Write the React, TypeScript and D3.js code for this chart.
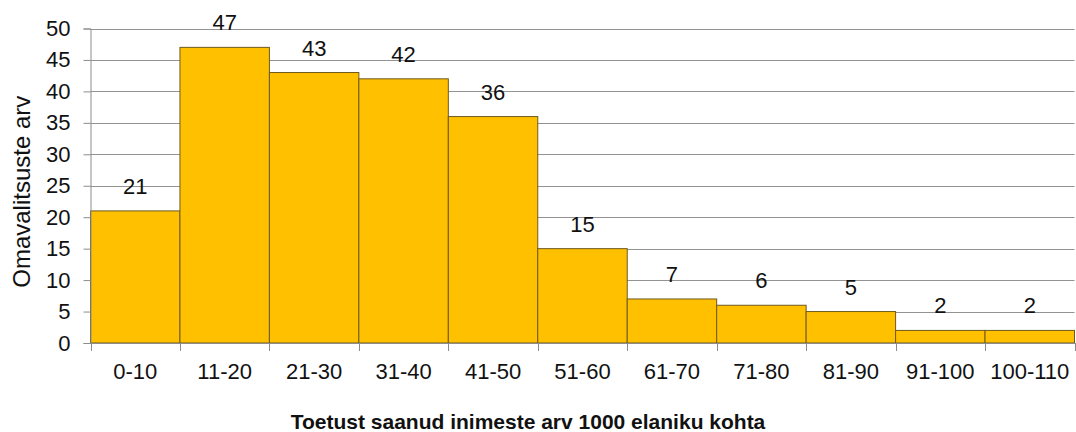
import React, { useEffect, useRef } from "react";
import * as d3 from "d3";

const categories = [
  "0-10", "11-20", "21-30", "31-40", "41-50", "51-60",
  "61-70", "71-80", "81-90", "91-100", "100-110",
];
const counts = [21, 47, 43, 42, 36, 15, 7, 6, 5, 2, 2];
const yTicks = [0, 5, 10, 15, 20, 25, 30, 35, 40, 45, 50];
const yTitle = "Omavalitsuste arv";
const xTitle = "Toetust saanud inimeste arv 1000 elaniku kohta";

const width = 1076;
const height = 432;
const font = "Liberation Sans, Arial, sans-serif";

const App = () => {
  const ref = useRef<SVGSVGElement>(null);

  useEffect(() => {
    const svg = d3.select(ref.current);
    svg.selectAll("*").remove();

    const left = 90.5;
    const right = 1074.5;
    const top = 28.5;
    const bottom = 343;

    const x = d3.scaleBand().domain(categories).range([left, right]).padding(0);
    const y = d3.scaleLinear().domain([0, 50]).range([bottom, top]);

    // gridlines
    svg.append("g")
      .selectAll("line")
      .data(yTicks.filter((t) => t > 0))
      .join("line")
      .attr("x1", left)
      .attr("x2", right)
      .attr("y1", (d) => Math.round(y(d)) + 0.5)
      .attr("y2", (d) => Math.round(y(d)) + 0.5)
      .attr("stroke", "#939393")
      .attr("stroke-width", 1);

    // bars
    svg.append("g")
      .selectAll("rect")
      .data(counts)
      .join("rect")
      .attr("x", (_, i) => x(categories[i])!)
      .attr("y", (d) => y(d))
      .attr("width", x.bandwidth())
      .attr("height", (d) => bottom - y(d))
      .attr("fill", "#FFC000")
      .attr("stroke", "#6e5a1e")
      .attr("stroke-width", 1);

    // value labels
    svg.append("g")
      .selectAll("text")
      .data(counts)
      .join("text")
      .attr("x", (_, i) => x(categories[i])! + x.bandwidth() / 2)
      .attr("y", (d) => y(d) - 17)
      .attr("text-anchor", "middle")
      .attr("font-family", font)
      .attr("font-size", 22)
      .attr("fill", "#111")
      .text((d) => d);

    // y axis
    const yAxis = svg.append("g")
      .attr("transform", `translate(${left},0)`)
      .call(d3.axisLeft(y).tickValues(yTicks).tickSize(7).tickPadding(13));
    yAxis.select(".domain").attr("stroke", "#8c8c8c");
    yAxis.selectAll(".tick line").attr("stroke", "#8c8c8c");
    yAxis.selectAll(".tick text")
      .attr("font-family", font)
      .attr("font-size", 22)
      .attr("fill", "#111");

    // x axis
    const xAxis = svg.append("g")
      .attr("transform", `translate(0,${bottom})`)
      .call(d3.axisBottom(x).tickSize(0).tickPadding(20));
    xAxis.select(".domain").attr("stroke", "#8c8c8c");
    xAxis.selectAll(".tick text")
      .attr("font-family", font)
      .attr("font-size", 22)
      .attr("fill", "#111");
    const bounds = [...categories.map((c) => x(c)!), right];
    xAxis.selectAll("line.sep")
      .data(bounds)
      .join("line")
      .attr("class", "sep")
      .attr("x1", (d) => Math.round(d) + 0.5)
      .attr("x2", (d) => Math.round(d) + 0.5)
      .attr("y1", 0)
      .attr("y2", 8)
      .attr("stroke", "#8c8c8c");

    // titles
    svg.append("text")
      .attr("transform", `translate(29.5,${(top + bottom) / 2 + 6}) rotate(-90)`)
      .attr("text-anchor", "middle")
      .attr("font-family", font)
      .attr("font-size", 24)
      .attr("fill", "#111")
      .text(yTitle);

    svg.append("text")
      .attr("x", 528)
      .attr("y", 429)
      .attr("text-anchor", "middle")
      .attr("font-family", font)
      .attr("font-size", 21)
      .attr("font-weight", "bold")
      .attr("fill", "#111")
      .text(xTitle);
  }, []);

  return (
    <svg
      ref={ref}
      width={width}
      height={height}
      style={{ position: "absolute", left: 0, top: 0, background: "#fff" }}
    />
  );
};

export default App;
